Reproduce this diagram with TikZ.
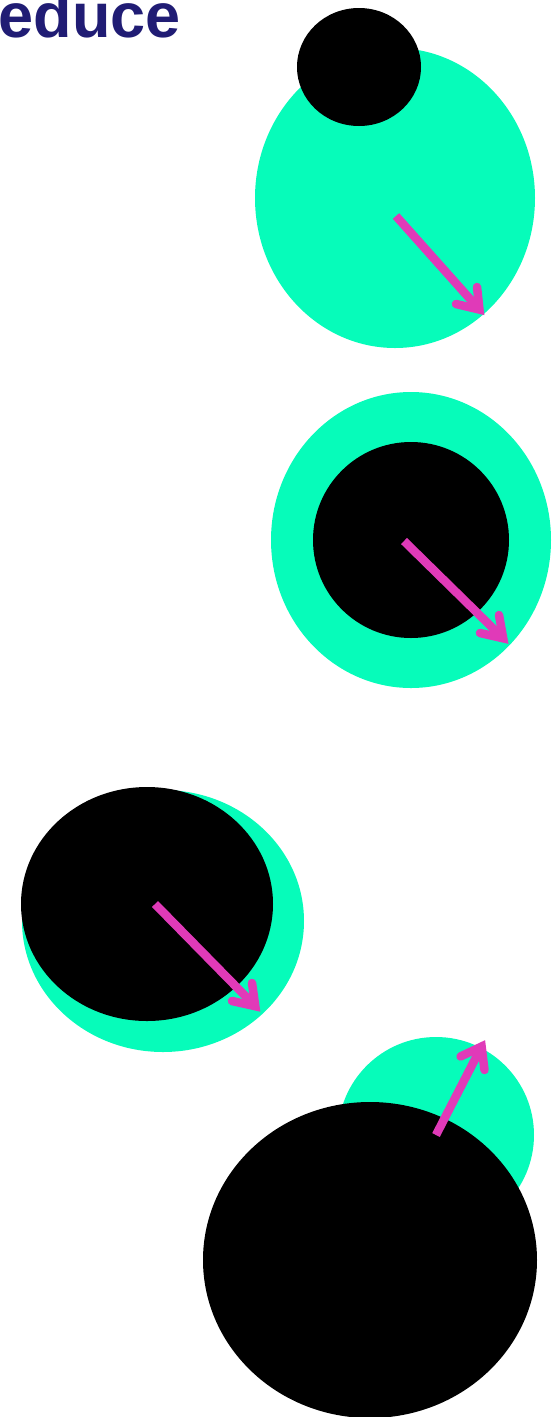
\documentclass[tikz,border=0pt]{standalone}
\usepackage{fontspec}
\setmainfont{Liberation Sans}
\definecolor{mint}{RGB}{6,252,186}
\definecolor{mag}{RGB}{224,58,184}
\definecolor{navy}{RGB}{32,28,116}
\begin{document}
\begin{tikzpicture}[x=1pt,y=-1pt,
  greenblob/.style={fill=mint},
  blackblob/.style={fill=black},
  shaft/.style={draw=mag,line width=8.5pt,line cap=butt},
  barb/.style={draw=mag,line width=8.5pt,line cap=round,line join=miter,miter limit=10}]
\useasboundingbox (0,0) rectangle (558,1417);
\node[anchor=base east,inner sep=0pt,text=navy,font=\fontsize{63}{63}\selectfont\bfseries] (title) at (181,37) {educe};
% scene 1
\fill[greenblob] (395,198) ellipse [x radius=140, y radius=150];
\fill[blackblob] (359,67) ellipse [x radius=62, y radius=59];
\coordinate (s1) at (396,216); \coordinate (t1) at (479.5,309.6);
\coordinate (a1) at (456,304); \coordinate (b1) at (477,287);
\draw[shaft] (s1) -- (t1);
\draw[barb] (a1) -- (t1) -- (b1);
% scene 2
\fill[greenblob] (411,540) ellipse [x radius=140, y radius=148];
\fill[blackblob] (411,540) ellipse [x radius=98, y radius=98];
\coordinate (s2) at (404,541); \coordinate (t2) at (503.2,638.3);
\coordinate (a2) at (480,633); \coordinate (b2) at (499,615);
\draw[shaft] (s2) -- (t2);
\draw[barb] (a2) -- (t2) -- (b2);
% scene 3
\fill[greenblob] (163,921) ellipse [x radius=141, y radius=131];
\fill[blackblob] (147,904) ellipse [x radius=126, y radius=117];
\coordinate (s3) at (155,904); \coordinate (t3) at (255.3,1006.2);
\coordinate (a3) at (232,1001); \coordinate (b3) at (252,983);
\draw[shaft] (s3) -- (t3);
\draw[barb] (a3) -- (t3) -- (b3);
% scene 4
\fill[greenblob] (436,1135) ellipse [x radius=98, y radius=98];
\fill[blackblob] (370,1260) ellipse [x radius=167, y radius=158];
\coordinate (s4) at (436,1135); \coordinate (t4) at (481.6,1046.5);
\coordinate (a4) at (460.5,1056.5); \coordinate (b4) at (484.5,1070);
\draw[shaft] (s4) -- (t4);
\draw[barb] (a4) -- (t4) -- (b4);
\end{tikzpicture}
\end{document}
